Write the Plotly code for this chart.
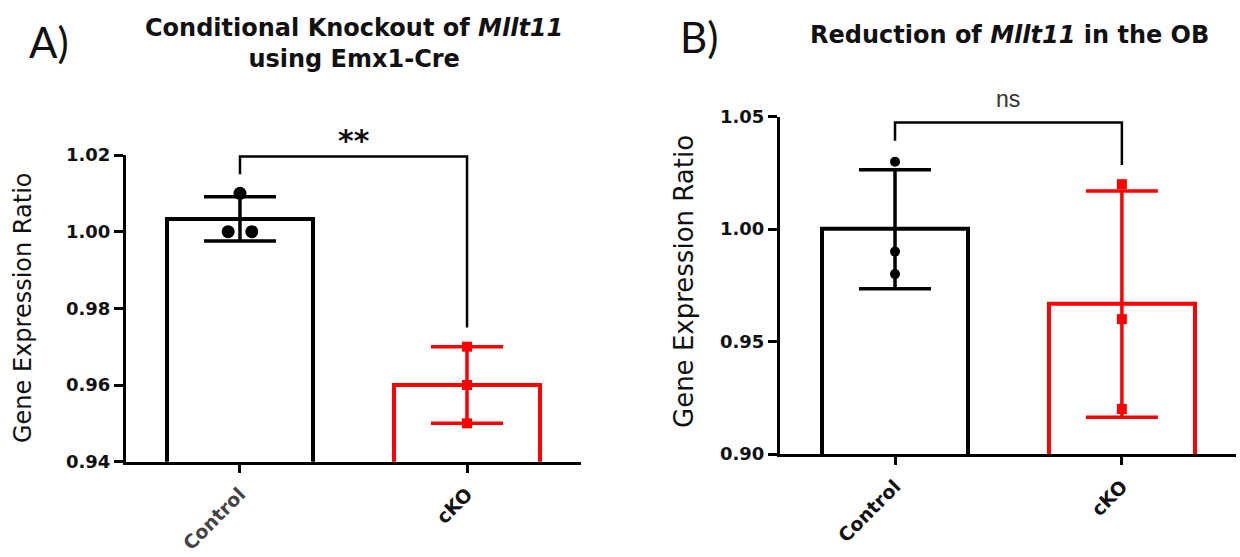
import numpy as np
import plotly.graph_objects as go

# ---------------- data ----------------
categories = ["Control", "cKO"]
cat_pos = [0, 1]

# Panel A: Conditional knockout using Emx1-Cre
a_control = [1.01, 1.00, 1.00]
a_cko = [0.97, 0.96, 0.95]
a_control_jitter = [0.0, -0.052, 0.052]
a_cko_jitter = [0.0, 0.0, 0.0]
a_yticks = [0.94, 0.96, 0.98, 1.00, 1.02]
a_yrange = [0.94, 1.02]
a_sig = "**"
a_bracket_y = [1.015, 1.0196, 0.975]   # left leg bottom, top, right leg bottom

# Panel B: Reduction in the OB
b_control = [1.03, 0.99, 0.98]
b_cko = [1.02, 0.96, 0.92]
b_control_jitter = [0.0, 0.0, 0.0]
b_cko_jitter = [0.0, 0.0, 0.0]
b_yticks = [0.90, 0.95, 1.00, 1.05]
b_yrange = [0.90, 1.05]
b_sig = "ns"
b_bracket_y = [1.0393, 1.0474, 1.0285]

BLACK = "#000000"
RED = "#ff0000"
FONT = "DejaVu Sans, sans-serif"
FONT2 = "Liberation Sans, Arial, sans-serif"
W, H = 1240, 557

fig = go.Figure()


def add_panel(fig, ctrl, cko, ctrl_jit, cko_jit, xa, ya, ctrl_size, cko_size):
    groups = [(ctrl, ctrl_jit, BLACK, "circle", ctrl_size), (cko, cko_jit, RED, "square", cko_size)]
    for pos, (vals, jit, col, sym, msize) in zip(cat_pos, groups):
        m = float(np.mean(vals))
        sd = float(np.std(vals, ddof=1))
        fig.add_trace(go.Bar(
            x=[pos], y=[m], width=0.643,
            marker=dict(color="white", line=dict(color=col, width=4)),
            error_y=dict(type="data", array=[sd], visible=True, color=col, thickness=3.5, width=36),
            xaxis=xa, yaxis=ya, showlegend=False, hoverinfo="skip",
        ))
        fig.add_trace(go.Scatter(
            x=[pos + j for j in jit], y=vals, mode="markers",
            marker=dict(color=col, symbol=sym, size=msize, line=dict(width=0)),
            xaxis=xa, yaxis=ya, showlegend=False, cliponaxis=False,
        ))


add_panel(fig, a_control, a_cko, a_control_jitter, a_cko_jitter, "x", "y", 13, 10)
add_panel(fig, b_control, b_cko, b_control_jitter, b_cko_jitter, "x2", "y2", 10, 10)

# significance brackets
for xr, yr, by in [("x", "y", a_bracket_y), ("x2", "y2", b_bracket_y)]:
    fig.add_shape(type="path",
                  path=f"M {cat_pos[0]},{by[0]} L {cat_pos[0]},{by[1]} L {cat_pos[1]},{by[1]} L {cat_pos[1]},{by[2]}",
                  xref=xr, yref=yr, line=dict(color=BLACK, width=2.5), layer="above")

tickfont = dict(family=FONT, size=18, color="#111111", weight="bold")
xtickfont = dict(family=FONT, size=19, color="#111111", weight="bold")
common_y = dict(showline=True, linecolor=BLACK, linewidth=3, ticks="outside", ticklen=9,
                tickwidth=3, tickcolor=BLACK, showgrid=False, zeroline=False, tickfont=tickfont,
                automargin=False)
common_x = dict(showline=True, linecolor=BLACK, linewidth=3, ticks="outside", ticklen=8,
                tickwidth=2.5, tickcolor=BLACK, showgrid=False, zeroline=False, tickfont=xtickfont,
                tickangle=-45, tickmode="array", tickvals=cat_pos, automargin=False,
                ticklabelstandoff=3)

fig.update_layout(
    width=W, height=H,
    margin=dict(l=0, r=0, t=0, b=0, pad=0, autoexpand=False),
    paper_bgcolor="white", plot_bgcolor="white",
    bargap=0, showlegend=False,
    xaxis=dict(domain=[126 / W, 581 / W], range=[-0.502, 1.502], anchor="y",
               ticktext=['<span style="color:#444444">Control</span>', "cKO"], **common_x),
    yaxis=dict(domain=[(H - 461.7) / H, (H - 155) / H], range=a_yrange, anchor="x",
               tickvals=a_yticks, ticktext=[f"{v:.2f}" for v in a_yticks], **common_y),
    xaxis2=dict(domain=[780 / W, 1236 / W], range=[-0.507, 1.503], anchor="y2",
                ticktext=categories, **common_x),
    yaxis2=dict(domain=[(H - 454) / H, (H - 116.7) / H], range=b_yrange, anchor="x2",
                tickvals=b_yticks, ticktext=[f"{v:.2f}" for v in b_yticks], **common_y),
)

ann = [
    dict(text="A)", x=27 / W, y=(H - 42) / H, xanchor="left", yanchor="middle",
         font=dict(family="Lato, Open Sans, sans-serif", size=42, color="#111111")),
    dict(text="B)", x=678 / W, y=(H - 37) / H, xanchor="left", yanchor="middle",
         font=dict(family="Lato, Open Sans, sans-serif", size=42, color="#111111")),
    dict(text="<b>Conditional Knockout of <i>Mllt11</i><br>using Emx1-Cre</b>",
         x=354 / W, y=(H - 43) / H, xanchor="center", yanchor="middle",
         font=dict(family=FONT, size=24, color="#111111")),
    dict(text="<b>Reduction of <i>Mllt11</i> in the OB</b>",
         x=1009 / W, y=(H - 35) / H, xanchor="center", yanchor="middle",
         font=dict(family=FONT, size=24, color="#111111")),
    dict(text="Gene Expression Ratio", textangle=-90, x=23 / W, y=(H - 308) / H,
         xanchor="center", yanchor="middle", font=dict(family=FONT, size=24, color="#111111")),
    dict(text="Gene Expression Ratio", textangle=-90, x=684 / W, y=(H - 282) / H,
         xanchor="center", yanchor="middle", font=dict(family=FONT, size=26, color="#111111")),
    dict(text=f"<b>{a_sig}</b>", x=353.5 / W, y=(H - 140) / H, xanchor="center", yanchor="middle",
         font=dict(family=FONT, size=30, color="#111111")),
    dict(text=b_sig, x=1008 / W, y=(H - 99) / H, xanchor="center", yanchor="middle",
         font=dict(family=FONT2, size=23, color="#333333")),
]
for a in ann:
    a.update(xref="paper", yref="paper", showarrow=False)
fig.update_layout(annotations=ann)

fig.write_html("out.html")
